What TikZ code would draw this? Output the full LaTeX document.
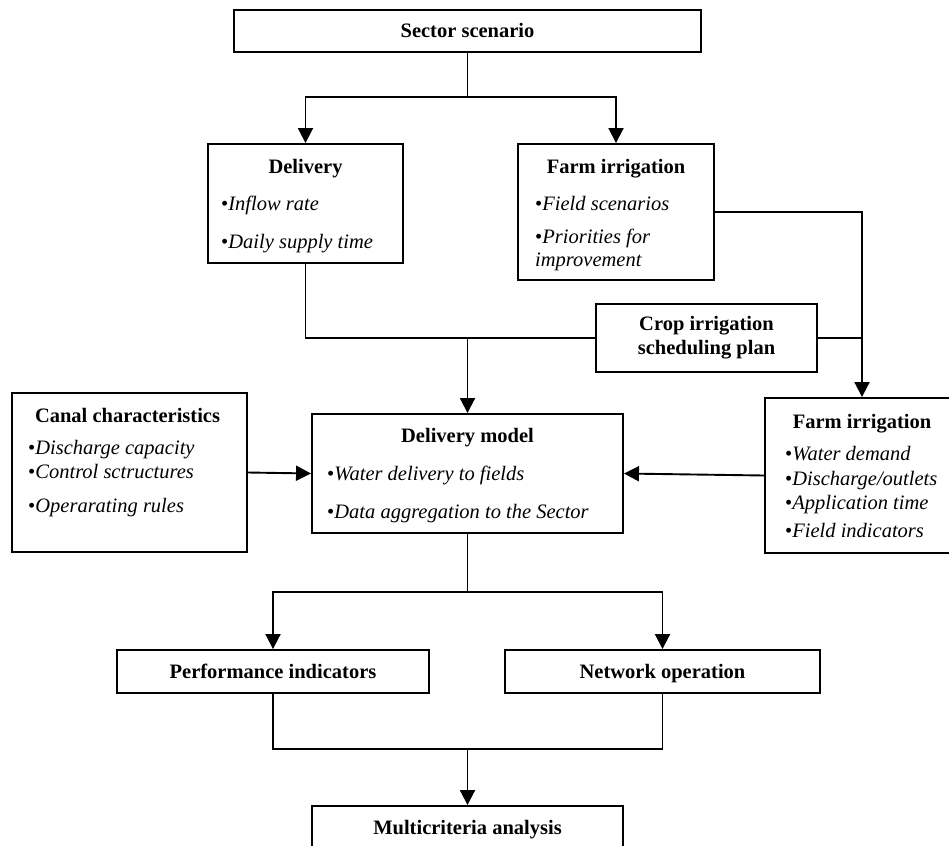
\documentclass[tikz,border=0pt]{standalone}
\usepackage{fontspec}
\setmainfont{Liberation Serif}
\usetikzlibrary{arrows.meta,positioning}

\begin{document}
\fontsize{20.5}{24}\selectfont
\begin{tikzpicture}[x=1pt,y=-1pt,
    box/.style={draw,line width=1.9pt,inner sep=0pt,font=\bfseries},
    onebox/.style={box,text height=16pt,text depth=3pt},
    link/.style={line width=1.9pt},
    arr/.style={line width=1.9pt,-{Triangle[width=15pt,length=15pt]}},
    head/.style={anchor=base,font=\bfseries},
    item/.style={anchor=base west,inner sep=0pt,font=\itshape}]
  \useasboundingbox (0,0) rectangle (949,845);
  % boxes
  \node[onebox,minimum width=467pt,minimum height=42pt] (sector) at (467.5,31) {Sector scenario};
  \node[box,minimum width=195pt,minimum height=119pt] (delivery) at (305.5,203.5) {};
  \node[box,minimum width=196pt,minimum height=136pt] (farmtop) at (616,212) {};
  \node[box,minimum width=221pt,minimum height=68pt,align=center] (crop) at (706.5,338) {Crop irrigation\\scheduling plan};
  \node[box,minimum width=235pt,minimum height=159pt] (canal) at (129.5,472.5) {};
  \node[box,minimum width=311pt,minimum height=119pt] (model) at (467.5,473.5) {};
  \node[box,minimum width=194pt,minimum height=155pt] (farmright) at (862,475.5) {};
  \node[onebox,minimum width=312pt,minimum height=43pt] (perf) at (273,671.5) {Performance indicators};
  \node[onebox,minimum width=315pt,minimum height=43pt] (network) at (662.5,671.5) {Network operation};
  \node[onebox,minimum width=311pt,minimum height=44pt] (multi) at (467.5,828) {Multicriteria analysis};
  % box texts
  \node[head] (delivery-t) at (305.5,174) {Delivery};
  \foreach \y/\t in {210/Inflow rate,248/Daily supply time}
    \node[item] (delivery-\y) at (221,\y) {{\upshape\textbullet}\t};
  \node[head] (farmtop-t) at (616,174) {Farm irrigation};
  \foreach \y/\t in {210/{\upshape\textbullet}Field scenarios,243/{\upshape\textbullet}Priorities for,266/improvement}
    \node[item] (farmtop-\y) at (535,\y) {\t};
  \node[head,anchor=base west] (canal-t) at (28,422) {Canal characteristics};
  \foreach \y/\t in {454/Discharge capacity,478/Control sctructures,512/Operarating rules}
    \node[item] (canal-\y) at (28,\y) {{\upshape\textbullet}\t};
  \node[head] (model-t) at (467.5,442) {Delivery model};
  \foreach \y/\t in {480/Water delivery to fields,518/Data aggregation to the Sector}
    \node[item] (model-\y) at (327,\y) {{\upshape\textbullet}\t};
  \node[head] (farmright-t) at (862,428) {Farm irrigation};
  \foreach \y/\t in {460/Water demand,485/{Discharge/outlets},509/Application time,537/Field indicators}
    \node[item] (farmright-\y) at (785,\y) {{\upshape\textbullet}\t};
  % connectors
  \coordinate (split1) at (467.5,97);
  \draw[link] (sector) -- (split1);
  \draw[arr] (split1) -| (delivery.north);
  \draw[arr] (split1) -| (farmtop.north);
  \draw[link] (delivery.south) |- (crop.west);
  \draw[arr] (model.north |- crop.west) -- (model.north);
  \draw[arr] (farmtop.east) -| (farmright.north);
  \draw[link] (crop.east) -- (crop.east -| farmright.north);
  \draw[arr] (canal.east) -- (model.west);
  \draw[arr] (farmright.west) -- (model.east);
  \coordinate (split2) at (467.5,592);
  \draw[link] (model.south) -- (split2);
  \draw[arr] (split2) -| (perf.north);
  \draw[arr] (split2) -| (network.north);
  \coordinate (join2) at (467.5,749);
  \draw[link] (perf.south) |- (join2) -| (network.south);
  \draw[arr] (join2) -- (multi.north);
\end{tikzpicture}
\end{document}
